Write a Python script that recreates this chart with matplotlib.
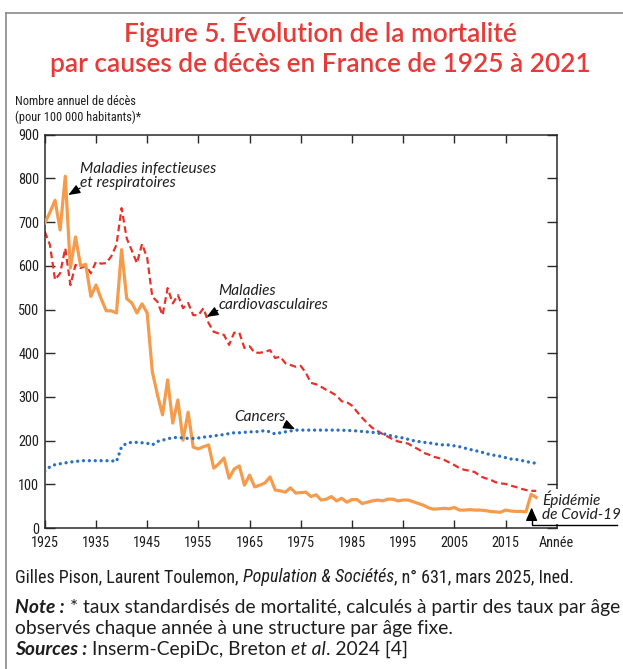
import os
import matplotlib
matplotlib.use('Agg')
import matplotlib.pyplot as plt
from matplotlib import font_manager as fm
from matplotlib.lines import Line2D

W, H = 623, 669

years = list(range(1925, 2022))
infect = [698, 722, 750, 682, 805, 595, 666, 600, 603, 530,
          556, 525, 497, 497, 492, 637, 525, 515, 492, 513,
          492, 358, 305, 259, 339, 240, 293, 201, 265, 185,
          181, 186, 190, 137, 147, 160, 114, 135, 142, 98,
          121, 94, 98, 103, 117, 87, 85, 82, 92, 80,
          81, 82, 72, 76, 64, 66, 72, 62, 68, 59,
          65, 65, 56, 59, 62, 64, 62, 66, 66, 62,
          64, 64, 60, 56, 52, 46, 43, 44, 45, 44,
          47, 41, 41, 42, 41, 41, 40, 38, 37, 36,
          41, 39, 38, 38, 37, 77, 70]
cardio = [678, 648, 568, 583, 640, 556, 602, 595, 600, 583,
          609, 605, 606, 622, 648, 732, 663, 635, 606, 650,
          618, 529, 518, 487, 549, 514, 533, 503, 515, 487,
          487, 503, 469, 449, 445, 442, 419, 447, 447, 412,
          416, 401, 401, 403, 407, 389, 392, 377, 373, 369,
          371, 355, 332, 329, 323, 316, 310, 303, 290, 288,
          280, 266, 252, 240, 229, 222, 215, 209, 203, 198,
          196, 193, 186, 180, 172, 168, 163, 160, 156, 150,
          144, 137, 133, 131, 128, 119, 114, 111, 105, 102,
          101, 97, 94, 90, 87, 85, 85]
cancer = [130, 140, 145, 147, 149, 151, 152, 154, 154, 154,
          154, 154, 154, 154, 152, 186, 194, 196, 196, 195,
          194, 190, 198, 201, 204, 207, 207, 206, 205, 205,
          206, 208, 209, 211, 212, 214, 216, 218, 218, 219,
          220, 220, 221, 223, 220, 215, 218, 220, 222, 224,
          224, 224, 224, 224, 224, 224, 224, 224, 224, 223,
          223, 222, 221, 220, 219, 217, 216, 213, 210, 208,
          206, 203, 200, 198, 196, 195, 193, 191, 190, 190,
          188, 186, 183, 180, 177, 175, 171, 168, 166, 164,
          161, 158, 157, 155, 152, 150, 148]

xticks = list(range(1925, 2025, 10))
yticks = list(range(0, 901, 100))

title_lines = ["Figure 5. Évolution de la mortalité",
               "par causes de décès en France de 1925 à 2021"]
ylabel_lines = ["Nombre annuel de décès", "(pour 100 000 habitants)*"]

RED = '#E5322B'
ORANGE = '#F59B4C'
BLUE = '#2C70C2'
TITLE_RED = '#E63B38'
INK = '#1e1e1e'


def avail(name):
    try:
        fm.findfont(fm.FontProperties(family=name), fallback_to_default=False)
        return True
    except Exception:
        return False


def find_condensed():
    prefs = ['liberationsansnarrow', 'notosanscondensed', 'opensanscondensed',
             'robotocondensed', 'dejavusanscondensed']
    found = []
    for f in fm.fontManager.ttflist:
        fn = os.path.basename(f.fname).lower()
        if not ('narrow' in fn or 'condensed' in fn):
            continue
        if any(b in fn for b in ['bold', 'italic', 'oblique', 'light', 'semi',
                                 'extra', 'thin', 'black', 'medium']):
            continue
        key = fn.split('.')[0].replace('-', '').replace('_', '').replace('regular', '')
        rank = len(prefs)
        for i, p in enumerate(prefs):
            if p in key:
                rank = i
                break
        found.append((rank, f.name, f.stretch))
    found.sort()
    return [dict(family=n, stretch=s) for _, n, s in found]


MAIN = 'Lato' if avail('Lato') else 'DejaVu Sans'
BASEKW = dict(family='Liberation Sans')

fig = plt.figure(figsize=(W / 100, H / 100), dpi=100)
R = fig.canvas.get_renderer()


def fx(x):
    return x / W


def fy(y):
    return 1 - y / H


def textw(s, **kw):
    t = fig.text(0, 0, s, **kw)
    w = t.get_window_extent(renderer=R).width
    t.remove()
    return w


# keep a condensed face only if it really is narrower than the regular one
CONDKW, IS_COND = BASEKW, False
ref_w = textw('Nombre 1935', fontsize=10, **BASEKW)
for cand in find_condensed():
    try:
        if textw('Nombre 1935', fontsize=10, **cand) < 0.9 * ref_w:
            CONDKW, IS_COND = cand, True
            break
    except Exception:
        pass


def fit_size(s, target, base=10, **kw):
    return base * target / textw(s, fontsize=base, **kw)


def rich(x, y, segs, size, fkw, color=INK, target=None):
    def run(size, draw):
        cx = x
        for s, st in segs:
            kw = dict(fontsize=size, **fkw)
            kw.update(st)
            sp = textw('a a', **kw) - textw('aa', **kw)
            lead = len(s) - len(s.lstrip(' '))
            trail = len(s) - len(s.rstrip(' '))
            core = s.strip(' ')
            cx += lead * sp
            if draw:
                t = fig.text(fx(cx), fy(y), core, va='baseline', ha='left',
                             color=color, **kw)
                cx += t.get_window_extent(renderer=R).width
            else:
                cx += textw(core, **kw)
            cx += trail * sp
        return cx - x
    if target:
        size = size * target / run(size, False)
    run(size, True)
    return size


# ---- axes ----
ax = fig.add_axes([fx(44.8), fy(528), (556.7 - 44.8) / W, (528 - 134.7) / H])
ax.plot(years, cardio, color=RED, lw=1.6, dashes=(3.0, 1.7), zorder=2)
ax.plot(years, infect, color=ORANGE, lw=2.3, zorder=3, solid_joinstyle='round')
ax.plot(years, cancer, color=BLUE, lw=2.4, dashes=(0.01, 1.75),
        dash_capstyle='round', zorder=4)
ax.set_xlim(1925, 2025)
ax.set_ylim(0, 900)
ax.set_xticks(xticks)
ax.set_yticks(yticks)
ax.set_xticklabels([str(v) for v in xticks])
ax.set_yticklabels([str(v) for v in yticks])

tick_size = fit_size('1935', 28, **CONDKW) if IS_COND else 10
for sp in ax.spines.values():
    sp.set_color('#2a2a2a')
    sp.set_linewidth(1.1)
ax.tick_params(axis='both', direction='in', top=True, right=True,
               color='#2a2a2a', width=1.0, labelsize=tick_size,
               labelcolor=INK)
ax.tick_params(axis='y', length=7.5, pad=4.0)
ax.tick_params(axis='x', length=5.5, pad=5.5)
for lab in ax.get_xticklabels() + ax.get_yticklabels():
    lab.set_family(CONDKW['family'])
    if 'stretch' in CONDKW:
        lab.set_stretch(CONDKW['stretch'])

fig.text(fx(539), fy(547), "Année", fontsize=tick_size, ha='left',
         va='baseline', color=INK, **CONDKW)

# ---- annotations ----
ann_size = fit_size("Maladies infectieuses", 136, family=MAIN, style='italic')
akw = dict(family=MAIN, style='italic', fontsize=ann_size, color=INK,
           linespacing=1.05)
ax.text(1931.9, 806, "Maladies infectieuses\net respiratoires", ha='left',
        va='center', **akw)
ax.text(1958.9, 526, "Maladies\ncardiovasculaires", ha='left', va='center', **akw)
ax.text(1962.1, 254, "Cancers", ha='left', va='center', **akw)
ax.text(2022.2, 50, "Épidémie\nde Covid-19", ha='left', va='center', zorder=6,
        bbox=dict(facecolor='white', edgecolor='none', pad=1.0), **akw)

arrow = dict(arrowstyle='-|>,head_length=0.7,head_width=0.28', color='black',
             lw=0.9, shrinkA=0, shrinkB=0)
ax.annotate('', xy=(1929.6, 762), xytext=(1931.9, 778), arrowprops=arrow)
ax.annotate('', xy=(1956.6, 483), xytext=(1958.8, 498), arrowprops=arrow)
ax.annotate('', xy=(1973.9, 226), xytext=(1971.8, 238), arrowprops=arrow)
ax.annotate('', xy=(2020.1, 47), xytext=(2020.1, 22), arrowprops=dict(
    arrowstyle='-|>,head_length=0.8,head_width=0.35', color='black', lw=1.0,
    shrinkA=0, shrinkB=0), annotation_clip=False)
ax.plot([2036.7, 2020.1, 2020.1], [7, 7, 24], color='black', lw=1.0,
        clip_on=False, zorder=7, solid_joinstyle='miter')

# ---- title ----
tsize = fit_size(title_lines[1], 542, family=MAIN, weight='semibold')
fig.text(fx(320), fy(42), title_lines[0], ha='center', va='baseline',
         family=MAIN, weight='semibold', fontsize=tsize, color=TITLE_RED)
fig.text(fx(320), fy(72), title_lines[1], ha='center', va='baseline',
         family=MAIN, weight='semibold', fontsize=tsize, color=TITLE_RED)

# ---- y label ----
ysize = fit_size(ylabel_lines[1], 125, **CONDKW) if IS_COND else 9.3
fig.text(fx(15), fy(105), ylabel_lines[0], fontsize=ysize,
         color=INK, va='baseline', **CONDKW)
fig.text(fx(15), fy(121), ylabel_lines[1], fontsize=ysize,
         color=INK, va='baseline', **CONDKW)

# ---- footer ----
rich(15, 582, [("Gilles Pison, Laurent Toulemon, ", {}),
               ("Population & Sociétés", dict(style='italic')),
               (", n° 631, mars 2025, Ined.", {})],
     10, CONDKW, target=558)
MAINKW = dict(family=MAIN)
nsize = rich(15, 613, [("Note :", dict(style='italic', weight='bold')),
                       (" * taux standardisés de mortalité, calculés à partir des taux par âge", {})],
             10, MAINKW, target=605)
rich(15, 634, [("observés chaque année à une structure par âge fixe.", {})],
     nsize, MAINKW)
rich(15, 655, [("Sources :", dict(style='italic', weight='bold')),
               (" Inserm-CepiDc, Breton ", {}),
               ("et al", dict(style='italic')),
               (". 2024 [4]", {})], nsize, MAINKW)

# ---- frame ----
fig.add_artist(Line2D([fx(6), fx(6)], [fy(13), fy(H + 2)], color='#8a8a8a',
                      lw=1.2, transform=fig.transFigure))
fig.add_artist(Line2D([fx(6), fx(W + 2)], [fy(13), fy(13)], color='#8a8a8a',
                      lw=1.2, transform=fig.transFigure))

fig.savefig('out.png', dpi=100)
